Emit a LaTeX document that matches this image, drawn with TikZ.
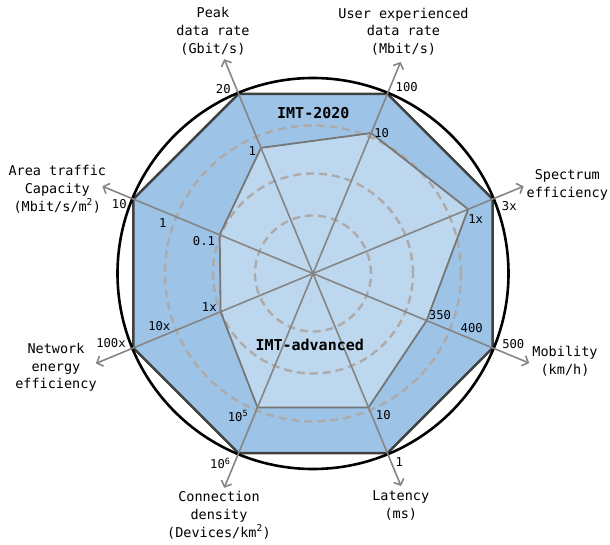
\documentclass[tikz,border=0pt]{standalone}
\usepackage{fontspec}
\newfontfamily\monofont{DejaVu Sans Mono}
\usetikzlibrary{arrows.meta}
\definecolor{outerfill}{HTML}{9DC3E6}
\definecolor{innerfill}{HTML}{BDD7EE}
\definecolor{edgedark}{HTML}{404040}
\definecolor{edgeinner}{HTML}{767676}
\definecolor{axisgray}{HTML}{858585}
\definecolor{gridgray}{HTML}{AEAAAA}

\begin{document}
\begin{tikzpicture}[x=1pt,y=1pt,
  axislabel/.style={font=\monofont\fontsize{13.5}{17.8}\selectfont, align=center, inner sep=0pt},
  value/.style={font=\monofont\fontsize{12.2}{14}\selectfont, inner sep=0pt},
  charttitle/.style={font=\monofont\bfseries\fontsize{15}{18}\selectfont, inner sep=0pt},
  axisline/.style={draw=axisgray, line width=1.6pt,
    -{Straight Barb[length=5pt,width=11pt,line width=1.6pt]}},
  gridring/.style={draw=gridgray, line width=2.4pt, dash pattern=on 8pt off 5pt},
]
\useasboundingbox (-313,-270.5) rectangle (297,273.5);

% centre, target octagon, current values and axis tips
\coordinate (c) at (0,0);
\foreach \a [count=\i] in {112.5,67.5,22.5,-22.5,-67.5,-112.5,-157.5,157.5}
  \coordinate (o\i) at (\a:194.5);
\foreach \a/\r [count=\i] in {112.5/136,67.5/152,22.5/168,-22.5/123,-67.5/145,-112.5/145,-157.5/100,157.5/101}
  \coordinate (n\i) at (\a:\r);
\foreach \a/\r [count=\i] in {112.5/232,67.5/229,22.5/228,-22.5/234,-67.5/230,-112.5/232,-157.5/235,157.5/228}
  \coordinate (t\i) at (\a:\r);

% IMT-2020 area
\filldraw[fill=outerfill, draw=edgedark, line width=2.4pt, line join=miter]
  (o1) -- (o2) -- (o3) -- (o4) -- (o5) -- (o6) -- (o7) -- (o8) -- cycle;
% IMT-advanced area
\fill[innerfill] (n1) -- (n2) -- (n3) -- (n4) -- (n5) -- (n6) -- (n7) -- (n8) -- cycle;
% dashed reference rings
\foreach \r in {58,100,148}
  \draw[gridring] (c) circle[radius=\r];
\draw[edgeinner, line width=1.8pt, line join=round]
  (n1) -- (n2) -- (n3) -- (n4) -- (n5) -- (n6) -- (n7) -- (n8) -- cycle;
% enclosing circle
\draw[line width=2.6pt] (c) circle[radius=195.5];
% axes
\foreach \i in {1,...,8}
  \draw[axisline] (c) -- (t\i);

% axis names
\node[axislabel] (lpeak) at (-100,242.5) {Peak\\data rate\\(Gbit/s)};
\node[axislabel] (luser) at (90.5,241.8) {User experienced\\data rate\\(Mbit/s)};
\node[axislabel] (lspec) at (254.3,88.5) {Spectrum\\efficiency};
\node[axislabel] (lmob) at (252,-87.8) {Mobility\\(km/h)};
\node[axislabel] (larea) at (-255.7,84.5) {Area traffic\\Capacity\\(Mbit/s/m\textsuperscript{2})};
\node[axislabel] (lnet) at (-257,-93.8) {Network\\energy\\efficiency};
\node[axislabel] (lconn) at (-94,-241.5) {Connection\\density\\(Devices/km\textsuperscript{2})};
\node[axislabel] (llat) at (87.8,-232.3) {Latency\\(ms)};

% values
\node[value] (v1) at (-89.7,184.2) {20};
\node[value] (v2) at (93.7,186.2) {100};
\node[value] (v3) at (68.7,140.2) {10};
\node[value] (v4) at (-60.7,122.5) {1};
\node[value] (v5) at (196.3,67.5) {3x};
\node[value] (v6) at (162.7,54.5) {1x};
\node[value] (v7) at (127,-41.5) {350};
\node[value] (v8) at (158.7,-54.8) {400};
\node[value] (v9) at (200.3,-70.8) {500};
\node[value] (v10) at (-193.7,69.2) {10};
\node[value] (v11) at (-150.3,50.2) {1};
\node[value] (v12) at (-109,32.8) {0.1};
\node[value] (v13) at (-103.7,-33.8) {1x};
\node[value] (v14) at (-153.7,-52.5) {10x};
\node[value] (v15) at (-202,-69.2) {100x};
\node[value, anchor=base west] (v16) at (-85.3,-147.6) {10\textsuperscript{5}};
\node[value, anchor=base west] (v17) at (-103,-194.9) {10\textsuperscript{6}};
\node[value] (v18) at (70.3,-141.5) {10};
\node[value] (v19) at (86.3,-188.2) {1};

% series names
\node[charttitle] (s1) at (0.3,160.2) {IMT-2020};
\node[charttitle] (s2) at (-3.3,-71.5) {IMT-advanced};
\end{tikzpicture}
\end{document}
